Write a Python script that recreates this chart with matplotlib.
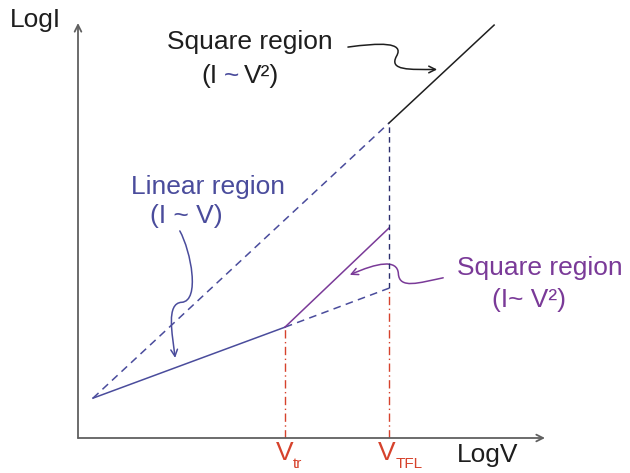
"""
plot.py
=======
Schematic log I - log V curve for space-charge-limited conduction:
linear (ohmic) region, trap-filled square region and trap-free square region.
"""

import matplotlib
matplotlib.use("Agg")
import matplotlib.pyplot as plt
from matplotlib.path import Path
from matplotlib.patches import FancyArrowPatch

plt.rcParams["font.family"] = ["Liberation Sans", "DejaVu Sans"]

# ---------------------------------------------------------------------------
# Data (schematic units: log V on x, log I on y, both 0..10)
# ---------------------------------------------------------------------------
V_START = 0.32        # left end of the curve
I_START = 0.96
V_TR    = 4.43        # transition voltage
I_TR    = 2.67
V_TFL   = 6.66        # trap-filled-limit voltage
I_TFL_TRAP  = 5.06    # top of the trapped square region at V_TFL
I_TFL_OHM   = 3.61    # ohmic extrapolation at V_TFL
I_TFL_FREE  = 7.59    # trap-free square law at V_TFL
V_END   = 8.91
I_END   = 9.95

ohmic_v      = [V_START, V_TR]
ohmic_i      = [I_START, I_TR]
ohmic_ext_v  = [V_TR, V_TFL]
ohmic_ext_i  = [I_TR, I_TFL_OHM]
trap_sq_v    = [V_TR, V_TFL]
trap_sq_i    = [I_TR, I_TFL_TRAP]
free_ext_v   = [V_START, V_TFL]
free_ext_i   = [I_START, I_TFL_FREE]
free_sq_v    = [V_TFL, V_END]
free_sq_i    = [I_TFL_FREE, I_END]

# curly pointer arrows (schematic units)
arrow_black  = [(5.78, 9.42), (6.45, 9.52), (7.0, 9.55), (6.82, 9.2),
                (6.65, 8.85), (7.1, 8.88), (7.69, 8.88)]
arrow_blue   = [(2.18, 4.99), (2.42, 4.5), (2.62, 3.3), (2.22, 3.27),
                (1.88, 3.25), (2.02, 2.5), (2.08, 1.93)]
arrow_purple = [(7.82, 3.86), (7.3, 3.74), (6.88, 3.58), (6.86, 3.96),
                (6.84, 4.32), (6.4, 4.22), (5.82, 3.93)]

BLUE   = "#4a4c9c"
PURPLE = "#7a3a98"
RED    = "#d6422c"
BLACK  = "#1e1e1e"
AXIS   = "#606060"
FS     = 19

# ---------------------------------------------------------------------------
# Figure
# ---------------------------------------------------------------------------
fig = plt.figure(figsize=(6.3, 4.73), dpi=100)
ax = fig.add_axes([78 / 630, 35 / 473, 467 / 630, 415 / 473])
ax.set_xlim(0, 10)
ax.set_ylim(0, 10)
ax.axis("off")

# axes with open arrow heads
ax.annotate("", xy=(0, 1), xytext=(0, 0), xycoords="axes fraction",
            arrowprops=dict(arrowstyle="->", color=AXIS, lw=1.3,
                            shrinkA=0, shrinkB=0, mutation_scale=12))
ax.annotate("", xy=(1, 0), xytext=(0, 0), xycoords="axes fraction",
            arrowprops=dict(arrowstyle="->", color=AXIS, lw=1.3,
                            shrinkA=0, shrinkB=0, mutation_scale=12))

# curve segments
ax.plot(ohmic_v, ohmic_i, color=BLUE, lw=1.1)
ax.plot(ohmic_ext_v, ohmic_ext_i, color=BLUE, lw=1.1, dashes=(5, 3.5))
ax.plot(trap_sq_v, trap_sq_i, color=PURPLE, lw=1.1)
ax.plot(free_ext_v, free_ext_i, color=BLUE, lw=1.1, dashes=(5, 3.5))
ax.plot(free_sq_v, free_sq_i, color=BLACK, lw=1.1)

# vertical guides
ax.plot([V_TR, V_TR], [0, I_TR], color=RED, lw=1.0,
        linestyle=(0, (6, 2.5, 1, 2.5)))
ax.plot([V_TFL, V_TFL], [0, I_TFL_OHM], color=RED, lw=1.0,
        linestyle=(0, (6, 2.5, 1, 2.5)))
ax.plot([V_TFL, V_TFL], [I_TFL_OHM, I_TFL_FREE], color="#2c2f6e", lw=1.0,
        dashes=(4, 3))

# curly arrows
for pts, col in [(arrow_black, BLACK), (arrow_blue, BLUE), (arrow_purple, PURPLE)]:
    codes = [Path.MOVETO] + [Path.CURVE4] * (len(pts) - 1)
    patch = FancyArrowPatch(path=Path(pts, codes), arrowstyle="->",
                            color=col, lw=1.1, mutation_scale=12,
                            transform=ax.transData)
    ax.add_patch(patch)

# axis labels
ax.text(-0.92, 10.07, "LogI", fontsize=FS, color=BLACK, ha="center", va="center")
ax.text(8.78, -0.41, "LogV", fontsize=FS, color=BLACK, ha="center", va="center")

# voltage markers
ax.text(V_TR, -0.36, "V", fontsize=FS, color=RED, ha="center", va="center")
ax.text(V_TR + 0.16, -0.62, "tr", fontsize=11, color=RED, ha="left", va="center")
ax.text(V_TFL - 0.04, -0.36, "V", fontsize=FS, color=RED, ha="center", va="center")
ax.text(V_TFL + 0.14, -0.62, "TFL", fontsize=11, color=RED, ha="left", va="center")

# region labels
ax.text(3.68, 9.54, "Square region", fontsize=FS, color=BLACK, ha="center", va="center")
ax.text(2.98, 8.72, "(I", fontsize=FS, color=BLACK, ha="right", va="center")
ax.text(3.28, 8.72, "~", fontsize=FS, color=BLUE, ha="center", va="center")
ax.text(3.55, 8.72, "V²)", fontsize=FS, color=BLACK, ha="left", va="center")

ax.text(2.79, 6.05, "Linear region", fontsize=FS, color=BLUE, ha="center", va="center")
ax.text(2.33, 5.35, "(I ~ V)", fontsize=FS, color=BLUE, ha="center", va="center")

ax.text(9.89, 4.10, "Square region", fontsize=FS, color=PURPLE, ha="center", va="center")
ax.text(9.66, 3.33, "(I~ V²)", fontsize=FS, color=PURPLE, ha="center", va="center")

fig.savefig("out.png", dpi=100, facecolor="white")
